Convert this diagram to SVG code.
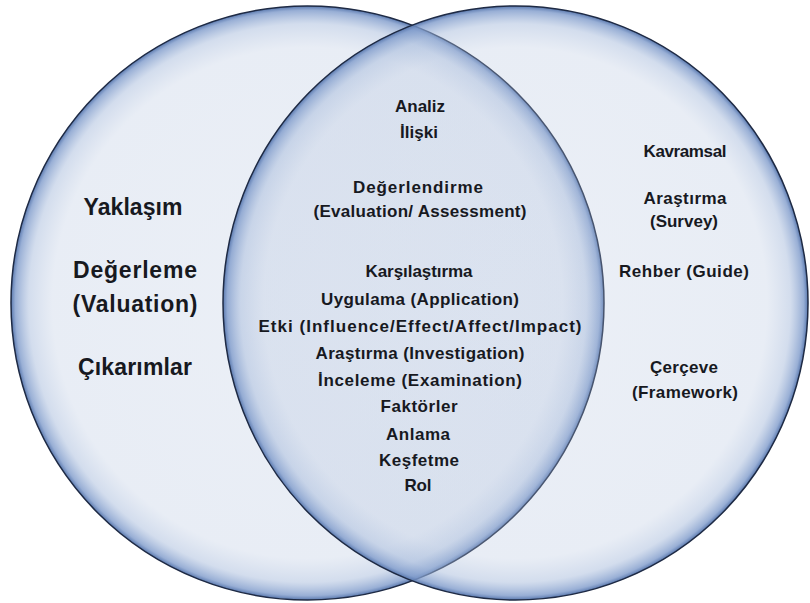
<svg xmlns="http://www.w3.org/2000/svg" width="810" height="603" viewBox="0 0 810 603">
  <defs>
    <radialGradient id="bubble" cx="0.5" cy="0.5" r="0.5">
      <stop offset="0" stop-color="#b3c3de" stop-opacity="0.26"/>
      <stop offset="0.86" stop-color="#b3c3de" stop-opacity="0.3"/>
      <stop offset="0.94" stop-color="#a3b8da" stop-opacity="0.48"/>
      <stop offset="0.985" stop-color="#7f9bcb" stop-opacity="0.8"/>
      <stop offset="1" stop-color="#5877ad" stop-opacity="1"/>
    </radialGradient>
    <style>
      .set { fill: url(#bubble); stroke: #1e2a44; stroke-width: 1.5; }
      text { font-family: "Liberation Sans", Arial, sans-serif; font-weight: bold; fill: #17191f; text-anchor: middle; }
      .big { font-size: 23px; }
      .mid { font-size: 17px; }
      .rt { font-size: 17px; }
    </style>
  </defs>
  <rect width="810" height="603" fill="#ffffff"/>

  <g id="set-left">
    <ellipse class="set" cx="307.5" cy="303" rx="296.5" ry="297"/>
  </g>
  <g id="set-right">
    <ellipse class="set" cx="515.5" cy="303" rx="292.5" ry="297"/>
  </g>
  <g id="connectors"/>

  <g id="left-labels">
    <text class="big" x="133" y="215" textLength="99">Yaklaşım</text>
    <text class="big" x="135" y="278" textLength="124">Değerleme</text>
    <text class="big" x="135" y="312" textLength="125">(Valuation)</text>
    <text class="big" x="135" y="375" textLength="114">Çıkarımlar</text>
  </g>

  <g id="center-labels">
    <text class="mid" x="420" y="112" textLength="50">Analiz</text>
    <text class="mid" x="419" y="138">İlişki</text>
    <text class="mid" x="418" y="193" textLength="130">Değerlendirme</text>
    <text class="mid" x="420" y="217" textLength="213">(Evaluation/ Assessment)</text>
    <text class="mid" x="419" y="277" textLength="107">Karşılaştırma</text>
    <text class="mid" x="420" y="305" textLength="198">Uygulama (Application)</text>
    <text class="mid" x="420" y="332" textLength="323">Etki (Influence/Effect/Affect/Impact)</text>
    <text class="mid" x="420" y="359" textLength="209">Araştırma (Investigation)</text>
    <text class="mid" x="420" y="386" textLength="204">İnceleme (Examination)</text>
    <text class="mid" x="419" y="412" textLength="77">Faktörler</text>
    <text class="mid" x="418" y="440" textLength="64">Anlama</text>
    <text class="mid" x="419" y="466" textLength="80">Keşfetme</text>
    <text class="mid" x="418" y="491" textLength="27">Rol</text>
  </g>

  <g id="right-labels">
    <text class="rt" x="685" y="157" textLength="83">Kavramsal</text>
    <text class="rt" x="685" y="204" textLength="83">Araştırma</text>
    <text class="rt" x="684" y="227" textLength="68">(Survey)</text>
    <text class="rt" x="684" y="277" textLength="130">Rehber (Guide)</text>
    <text class="rt" x="684" y="373" textLength="68">Çerçeve</text>
    <text class="rt" x="685" y="398" textLength="106">(Framework)</text>
  </g>
</svg>
